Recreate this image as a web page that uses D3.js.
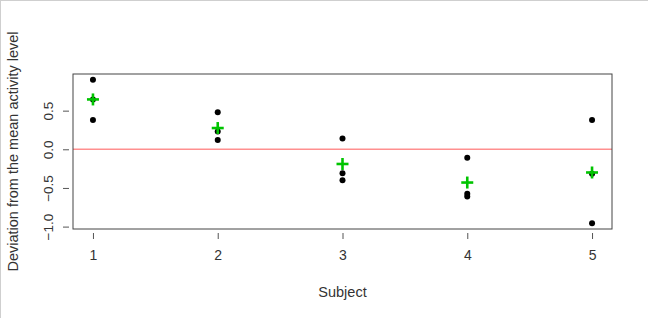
<!DOCTYPE html>
<html>
<head>
<meta charset="utf-8">
<script src="https://cdn.jsdelivr.net/npm/d3@7"></script>
<style>
  html, body { margin: 0; padding: 0; background: #fff; }
  svg { display: block; font-family: "Liberation Sans", Arial, sans-serif; }
</style>
</head>
<body>
<div id="chart"></div>
<script>
// subject ids and the three deviations per subject
const subjects = [1, 2, 3, 4, 5];
const trial1 = [0.90, 0.48, 0.14, -0.11, 0.38];
const trial2 = [0.38, 0.12, -0.31, -0.575, -0.957];
const trial3 = [0.645, 0.23, -0.40, -0.61, -0.316];
const means = [0.645, 0.275, -0.19, -0.43, -0.30];
const yTicks = [-1.0, -0.5, 0.0, 0.5];

const W = 648, H = 318;
const margin = { left: 73, right: 36, top: 74, bottom: 89 };

const svg = d3.select('#chart')
  .append('svg')
    .attr('width', W)
    .attr('height', H);

// light frame round the image
svg.append('rect')
    .attr('x', 0.5).attr('y', 0.5)
    .attr('width', W).attr('height', H)
    .attr('fill', '#fff')
    .attr('stroke', '#cfcfcf');

const x = d3.scaleLinear()
    .domain([0.84, 5.16])
    .range([margin.left, W - margin.right]);

const y = d3.scaleLinear()
    .domain([-1.031, 0.974])
    .range([H - margin.bottom, margin.top]);

// zero reference line
svg.append('line')
    .attr('x1', x.range()[0]).attr('x2', x.range()[1])
    .attr('y1', y(0)).attr('y2', y(0))
    .attr('stroke', '#ff8f8f')
    .attr('stroke-width', 1.5);

// axes, R style: ticks outside, detached from box
const xAxis = d3.axisBottom(x)
    .tickValues(subjects)
    .tickSize(6)
    .tickPadding(11)
    .tickFormat(d3.format('d'));

const gx = svg.append('g')
    .attr('transform', `translate(0, ${H - margin.bottom + 4})`)
    .call(xAxis);

const yAxis = d3.axisLeft(y)
    .tickValues(yTicks)
    .tickSize(6)
    .tickFormat(d3.format('.1f'));

const gy = svg.append('g')
    .attr('transform', `translate(${margin.left - 4}, 0)`)
    .call(yAxis);

[gx, gy].forEach(g => {
  g.select('.domain').remove();
  g.selectAll('line').attr('stroke', '#555');
  g.selectAll('text')
      .attr('fill', '#333')
      .style('font-size', '13.5px')
      .style('font-family', '"Liberation Sans", Arial, sans-serif');
});
gx.selectAll('text').style('font-size', '14px');

// y tick labels run parallel to the axis
gy.selectAll('.tick text')
    .attr('x', null)
    .attr('text-anchor', 'middle')
    .attr('transform', 'translate(-21, 0) rotate(-90)')
    .attr('dy', '0.35em');

// the plot box
svg.append('rect')
    .attr('x', margin.left)
    .attr('y', margin.top)
    .attr('width', W - margin.left - margin.right)
    .attr('height', H - margin.top - margin.bottom)
    .attr('fill', 'none')
    .attr('stroke', '#444')
    .attr('stroke-width', 1);

// black points
const points = [];
subjects.forEach((s, i) => {
  [trial1, trial2, trial3].forEach(arr => points.push({ s, v: arr[i] }));
});

svg.append('g')
  .selectAll('circle')
  .data(points)
  .join('circle')
    .attr('cx', d => x(d.s))
    .attr('cy', d => y(d.v))
    .attr('r', 3)
    .attr('fill', '#000');

// green mean crosses
const arm = 6;
const crosses = svg.append('g')
    .attr('stroke', '#00c400')
    .attr('stroke-width', 2.6);

subjects.forEach((s, i) => {
  const cx = x(s), cy = y(means[i]);
  crosses.append('line')
      .attr('x1', cx - arm).attr('x2', cx + arm)
      .attr('y1', cy).attr('y2', cy);
  crosses.append('line')
      .attr('x1', cx).attr('x2', cx)
      .attr('y1', cy - arm).attr('y2', cy + arm);
});

// axis titles
svg.append('text')
    .attr('x', (x.range()[0] + x.range()[1]) / 2)
    .attr('y', 297)
    .attr('text-anchor', 'middle')
    .attr('fill', '#333')
    .style('font-size', '14.5px')
    .text('Subject');

svg.append('text')
    .attr('transform', `translate(18, ${(y.range()[0] + y.range()[1]) / 2}) rotate(-90)`)
    .attr('text-anchor', 'middle')
    .attr('fill', '#333')
    .style('font-size', '14.5px')
    .text('Deviation from the mean activity level');
</script>
</body>
</html>
